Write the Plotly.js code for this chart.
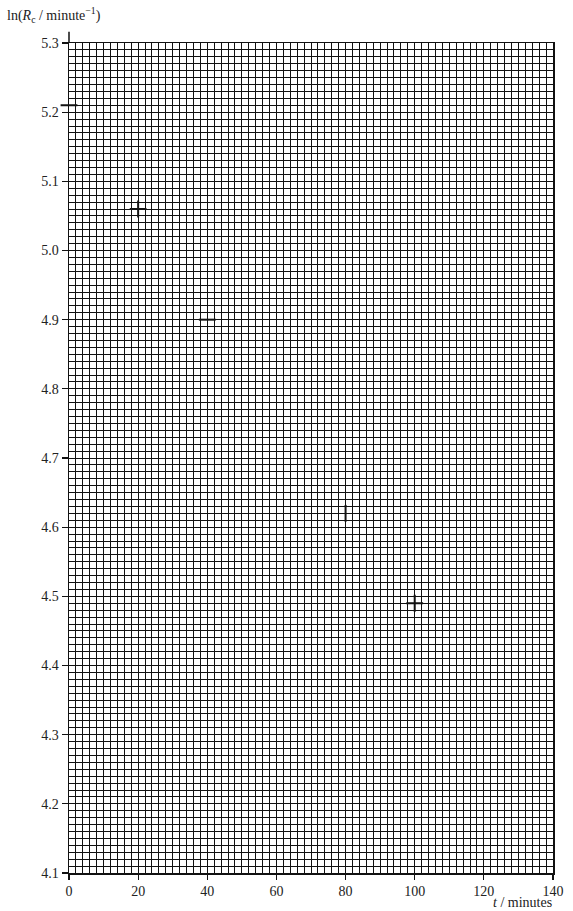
<!DOCTYPE html>
<html>
<head>
<meta charset="utf-8">
<script src="https://cdn.plot.ly/plotly-3.0.1.min.js"></script>
<style>
  html, body { margin: 0; padding: 0; background: #fff; }
  #chart { width: 573px; height: 911px; }
</style>
</head>
<body>
<div id="chart"></div>
<script>
// plotted points
var t_minutes = [0, 20, 40, 80, 100]
var ln_rc = [5.21, 5.06, 4.90, 4.62, 4.49]
// mark style of each point (dash, cross, dash, bar, cross)
var point_marks = ['line-ew', 'cross-thin', 'line-ew', 'line-ns', 'cross-thin']

var x_ticks = [0, 20, 40, 60, 80, 100, 120, 140]
var y_ticks = [4.1, 4.2, 4.3, 4.4, 4.5, 4.6, 4.7, 4.8, 4.9, 5.0, 5.1, 5.2, 5.3]

var font_serif = 'Liberation Serif, Times New Roman, serif'

var trace_data = [{
    x: t_minutes,
    y: ln_rc,
    mode: 'markers',
    type: 'scatter',
    cliponaxis: false,
    marker: {
        symbol: point_marks,
        size: 12,
        color: '#111',
        line: { color: '#111', width: 2 }
    },
    hoverinfo: 'skip'
}]

var layout = {
    width: 573,
    height: 911,
    margin: { l: 69, r: 20, t: 43, b: 38 },
    paper_bgcolor: '#fff',
    plot_bgcolor: '#fff',
    showlegend: false,
    font: { family: font_serif, size: 14, color: '#222' },
    xaxis: {
        range: [0, 140],
        tickvals: x_ticks,
        ticktext: x_ticks.map(String),
        showline: true,
        mirror: true,
        linecolor: '#111',
        linewidth: 1.5,
        ticks: 'outside',
        ticklen: 5,
        tickwidth: 1.2,
        tickcolor: '#111',
        showgrid: true,
        gridcolor: '#111',
        gridwidth: 1,
        zeroline: false,
        minor: { dtick: 2, showgrid: true, gridcolor: '#111', gridwidth: 1, ticks: '' },
        tickfont: { family: font_serif, size: 14, color: '#222' },
        fixedrange: true
    },
    yaxis: {
        range: [4.1, 5.3],
        tickvals: y_ticks,
        ticktext: y_ticks.map(v => v.toFixed(1)),
        showline: true,
        mirror: true,
        linecolor: '#111',
        linewidth: 1.5,
        ticks: 'outside',
        ticklen: 6,
        tickwidth: 1.2,
        tickcolor: '#111',
        showgrid: true,
        gridcolor: '#111',
        gridwidth: 1,
        zeroline: false,
        minor: { dtick: 0.01, showgrid: true, gridcolor: '#111', gridwidth: 1, ticks: '' },
        tickfont: { family: font_serif, size: 14, color: '#222' },
        fixedrange: true
    },
    shapes: [{
        // left axis runs a little above the grid
        type: 'line', xref: 'paper', yref: 'paper',
        x0: 0, x1: 0, y0: 1, y1: 1.0135,
        line: { color: '#111', width: 1.5 }
    }],
    annotations: [{
        text: 'ln(<i>R</i><sub>c</sub> / minute<sup>−1</sup>)',
        xref: 'paper', yref: 'paper',
        x: -0.132, y: 1.034,
        xanchor: 'left', yanchor: 'middle',
        showarrow: false,
        font: { family: font_serif, size: 14, color: '#222' }
    }, {
        text: '<i>t</i> / minutes',
        xref: 'paper', yref: 'paper',
        x: 1.0, y: -0.0455,
        xanchor: 'right', yanchor: 'bottom',
        borderpad: 0,
        showarrow: false,
        font: { family: font_serif, size: 14, color: '#222' }
    }]
}

var plotly_config = {
    displaylogo: false,
    displayModeBar: false,
    staticPlot: true
}

Plotly.newPlot('chart', trace_data, layout, plotly_config)
</script>
</body>
</html>
